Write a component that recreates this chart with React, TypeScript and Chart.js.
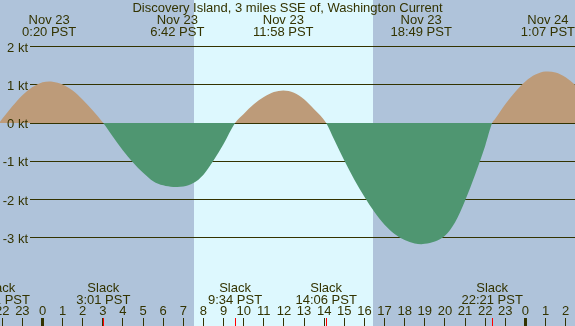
import React, { useEffect, useRef } from 'react';
import { Chart, registerables } from 'chart.js';
Chart.register(...registerables);

const TITLE = 'Discovery Island, 3 miles SSE of, Washington Current';

// hours since midnight Nov 23 (PST) and current speed in knots
const hours = [
  -2.16, -2.0, -1.5, -1.0, -0.5, 0.0, 0.33, 0.5, 1.0, 1.5, 2.0, 2.5,
  3.02, 3.5, 4.0, 4.5, 5.0, 5.5, 6.0, 6.5, 6.7, 7.0, 7.5, 8.0, 8.5, 9.0,
  9.57, 10.0, 10.5, 11.0, 11.5, 11.97, 12.5, 13.0, 13.5,
  14.1, 14.5, 15.0, 15.5, 16.0, 16.5, 17.0, 17.5, 18.0, 18.5, 18.82, 19.0, 19.5,
  20.0, 20.5, 21.0, 21.5, 22.0,
  22.35, 22.5, 23.0, 23.5, 24.0, 24.5, 25.0, 25.12, 25.5, 26.0, 26.5,
];
const speeds = [
  0, 0.11, 0.44, 0.73, 0.94, 1.07, 1.09, 1.08, 1.01, 0.85, 0.61, 0.33,
  0, -0.36, -0.72, -1.03, -1.3, -1.52, -1.63, -1.67, -1.67, -1.66, -1.57, -1.35, -0.98, -0.55,
  0, 0.24, 0.49, 0.68, 0.81, 0.85, 0.79, 0.62, 0.36,
  0, -0.44, -0.98, -1.48, -1.93, -2.33, -2.66, -2.9, -3.06, -3.15, -3.17, -3.16, -3.1,
  -2.95, -2.6, -2.03, -1.35, -0.6,
  0, 0.11, 0.49, 0.82, 1.09, 1.27, 1.35, 1.35, 1.32, 1.2, 0.99,
];

const yTicks = [2, 1, 0, -1, -2, -3];
const yTickLabels = ['2 kt', '1 kt', '0 kt', '-1 kt', '-2 kt', '-3 kt'];

const hourTicks = [-2, -1, 0, 1, 2, 3, 4, 5, 6, 7, 8, 9, 10, 11, 12, 13, 14, 15, 16, 17, 18, 19, 20, 21, 22, 23, 24, 25, 26];
const hourLabels = ['22', '23', '0', '1', '2', '3', '4', '5', '6', '7', '8', '9', '10', '11', '12', '13', '14', '15', '16', '17', '18', '19', '20', '21', '22', '23', '0', '1', '2'];
const midnightHours = [0, 24];

const maxHours = [0.33, 6.7, 11.97, 18.82, 25.12];
const maxDates = ['Nov 23', 'Nov 23', 'Nov 23', 'Nov 23', 'Nov 24'];
const maxTimes = ['0:20 PST', '6:42 PST', '11:58 PST', '18:49 PST', '1:07 PST'];

const slackHours = [-2.15, 3.02, 9.57, 14.1, 22.35];
const slackTimes = ['21:51 PST', '3:01 PST', '9:34 PST', '14:06 PST', '22:21 PST'];

const sunriseHour = 7.54;
const sunsetHour = 16.44;

const X_MIN = -2.112;
const X_MAX = 26.466;
const Y_MIN = -5.309;
const Y_MAX = 3.219;

const NIGHT = '#afc3da';
const DAY = '#ddf8fe';
const FLOOD = '#bd9b79';
const EBB = '#4f9671';
const INK = '#333300';
const FONT = '13px "Liberation Sans", Arial, sans-serif';

const tidePlugin = {
  id: 'tideDecor',
  beforeDraw(chart: any) {
    const { ctx, scales } = chart;
    const xs = scales.x;
    ctx.save();
    ctx.fillStyle = NIGHT;
    ctx.fillRect(0, 0, chart.width, chart.height);
    const x1 = Math.round(xs.getPixelForValue(sunriseHour));
    const x2 = Math.round(xs.getPixelForValue(sunsetHour));
    ctx.fillStyle = DAY;
    ctx.fillRect(x1, 0, x2 - x1, chart.height);
    ctx.restore();
  },
  beforeDatasetsDraw(chart: any) {
    const { ctx, scales } = chart;
    const ys = scales.y;
    ctx.save();
    ctx.fillStyle = INK;
    yTicks.forEach((v) => {
      const y = Math.floor(ys.getPixelForValue(v));
      ctx.fillRect(30, y, chart.width - 30, 1);
    });
    ctx.restore();
  },
  afterDatasetsDraw(chart: any) {
    const { ctx, scales } = chart;
    const xs = scales.x;
    const ys = scales.y;
    ctx.save();
    ctx.font = FONT;
    ctx.fillStyle = INK;
    ctx.textBaseline = 'alphabetic';

    // y labels
    ctx.textAlign = 'right';
    yTicks.forEach((v, i) => {
      const y = ys.getPixelForValue(v);
      ctx.fillText(yTickLabels[i], 28, y + 5);
    });

    // title
    ctx.textAlign = 'center';
    ctx.fillText(TITLE, chart.width / 2, 12);

    // max current labels
    maxHours.forEach((h, i) => {
      const x = xs.getPixelForValue(h);
      ctx.fillText(maxDates[i], x, 24);
      ctx.fillText(maxTimes[i], x, 36);
    });

    // slack labels
    slackHours.forEach((h, i) => {
      const x = xs.getPixelForValue(h);
      ctx.fillText('Slack', x, 292);
      ctx.fillText(slackTimes[i], x, 304);
    });

    // hour labels and ticks
    hourTicks.forEach((h, i) => {
      const x = xs.getPixelForValue(h);
      ctx.fillText(hourLabels[i], x, 315);
      ctx.fillRect(Math.floor(x), 318, 1, 8);
    });
    midnightHours.forEach((h) => {
      const x = xs.getPixelForValue(h);
      ctx.fillRect(Math.floor(x) - 1, 318, 3, 8);
    });
    ctx.fillStyle = '#ff0000';
    slackHours.forEach((h) => {
      const x = xs.getPixelForValue(h);
      ctx.fillRect(Math.floor(x), 318, 1, 8);
    });
    ctx.restore();
  },
};

export default function App() {
  const ref = useRef<HTMLCanvasElement | null>(null);
  useEffect(() => {
    document.body.style.margin = '0';
    const canvas = ref.current;
    if (!canvas) return;
    const chart = new Chart(canvas, {
      type: 'line',
      data: {
        datasets: [
          {
            data: hours.map((h, i) => ({ x: h, y: speeds[i] })),
            borderWidth: 0,
            borderColor: 'rgba(0,0,0,0)',
            pointRadius: 0,
            cubicInterpolationMode: 'monotone',
            fill: { target: 'origin', above: FLOOD, below: EBB },
          } as any,
        ],
      },
      options: {
        animation: false,
        responsive: false,
        devicePixelRatio: 1,
        layout: { padding: 0 },
        plugins: { legend: { display: false }, tooltip: { enabled: false }, title: { display: false } },
        events: [],
        scales: {
          x: { type: 'linear', min: X_MIN, max: X_MAX, display: false },
          y: { type: 'linear', min: Y_MIN, max: Y_MAX, display: false },
        },
      },
      plugins: [tidePlugin],
    });
    return () => chart.destroy();
  }, []);
  return (
    <div style={{ position: 'absolute', left: 0, top: 0, width: 575, height: 326 }}>
      <canvas ref={ref} width={575} height={326} style={{ display: 'block', width: 575, height: 326 }} />
    </div>
  );
}
